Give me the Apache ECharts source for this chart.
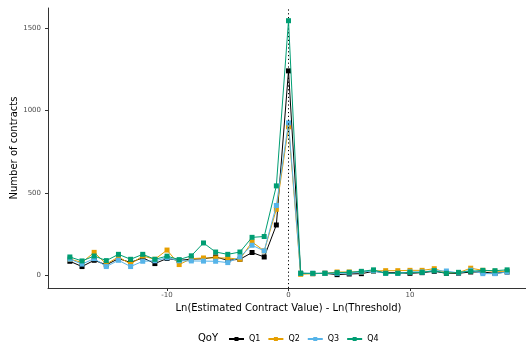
<!DOCTYPE html>
<html>
<head>
<meta charset="utf-8">
<script src="https://cdn.jsdelivr.net/npm/echarts@6/dist/echarts.min.js"></script>
<style>
  html, body { margin: 0; padding: 0; background: #fff; }
  #chart { width: 526px; height: 346px; }
</style>
</head>
<body>
<div id="chart"></div>
<script>
// Log distance from the procurement threshold (integer bins)
const xBins = [-18,-17,-16,-15,-14,-13,-12,-11,-10,-9,-8,-7,-6,-5,-4,-3,-2,-1,0,
               1,2,3,4,5,6,7,8,9,10,11,12,13,14,15,16,17,18];

// Number of contracts per bin, by quarter of year
const q1 = [87,55,93,65,103,80,108,73,104,92,100,102,113,93,99,140,113,307,1241,
            14,12,14,6,10,12,26,18,18,14,18,26,14,14,22,22,14,22];
const q2 = [100,80,141,70,113,70,119,99,155,67,103,107,107,107,99,204,150,402,902,
            8,12,14,22,22,22,28,30,30,32,32,42,18,18,45,32,26,26];
const q3 = [100,70,103,55,93,55,87,90,108,90,89,88,87,79,113,184,150,425,926,
            14,14,14,14,16,22,28,14,14,22,22,30,28,16,33,12,12,22];
const q4 = [113,89,119,91,129,99,129,99,118,97,120,198,143,129,143,232,237,544,1545,
            14,14,14,18,20,26,35,14,14,20,20,30,14,20,26,32,30,35];

const seriesNames = ['Q1', 'Q2', 'Q3', 'Q4'];
const seriesColors = ['#000000', '#E69F00', '#56B4E9', '#009E73'];
const seriesValues = [q1, q2, q3, q4];

const xTicks = [-10, 0, 10];
const yTicks = [0, 500, 1000, 1500];

const FONT = 'DejaVu Sans';
const chart = echarts.init(document.getElementById('chart'), null, { renderer: 'canvas' });

const series = seriesNames.map((name, i) => ({
  name: name,
  type: 'line',
  data: xBins.map((x, j) => [x, seriesValues[i][j]]),
  symbol: 'rect',
  symbolSize: 5,
  showAllSymbol: true,
  lineStyle: { color: seriesColors[i], width: 1 },
  itemStyle: { color: seriesColors[i] },
  emphasis: { disabled: true },
  animation: false,
  z: 2 + i
}));

// Threshold marker at zero
series.push({
  type: 'line',
  data: [],
  silent: true,
  animation: false,
  markLine: {
    silent: true,
    symbol: ['none', 'none'],
    label: { show: false },
    lineStyle: { color: '#000', type: [1.2, 2.6], width: 1 },
    data: [{ xAxis: 0 }],
    animation: false
  },
  z: 1
});

const plainNumber = v => String(v);

const axisCommon = {
  axisLine: { show: true, onZero: false, lineStyle: { color: '#333', width: 1 } },
  axisTick: { show: true, length: 3, lineStyle: { color: '#333' } },
  splitLine: { show: false },
  axisLabel: { color: '#4d4d4d', fontFamily: FONT, fontSize: 7, formatter: plainNumber }
};

chart.setOption({
  backgroundColor: '#fff',
  animation: false,
  grid: { left: 48, right: -3, top: 8, bottom: 58, outerBoundsMode: 'none', containLabel: false },
  xAxis: Object.assign({}, axisCommon, {
    type: 'value',
    min: -19.8, max: 19.8,
    axisTick: Object.assign({}, axisCommon.axisTick, { customValues: xTicks }),
    axisLabel: Object.assign({}, axisCommon.axisLabel, { customValues: xTicks, margin: 4 }),
    name: 'Ln(Estimated Contract Value) - Ln(Threshold)',
    nameLocation: 'middle',
    nameGap: 15,
    nameMoveOverlap: false,
    nameTextStyle: { color: '#000', fontFamily: FONT, fontSize: 10 }
  }),
  yAxis: Object.assign({}, axisCommon, {
    type: 'value',
    min: -75, max: 1622,
    axisTick: Object.assign({}, axisCommon.axisTick, { customValues: yTicks }),
    axisLabel: Object.assign({}, axisCommon.axisLabel, { customValues: yTicks, margin: 7 }),
    name: 'Number of contracts',
    nameLocation: 'middle',
    nameGap: 29,
    nameMoveOverlap: false,
    nameTextStyle: { color: '#000', fontFamily: FONT, fontSize: 10 }
  }),
  legend: {
    data: seriesNames,
    left: 223, top: 330,
    itemWidth: 15, itemHeight: 5,
    itemGap: 7,
    textStyle: { color: '#000', fontFamily: FONT, fontSize: 8 }
  },
  graphic: [{
    type: 'text',
    left: 198, top: 333,
    style: { text: 'QoY', fill: '#000', font: '10px "DejaVu Sans"' }
  }],
  series: series
});
</script>
</body>
</html>
